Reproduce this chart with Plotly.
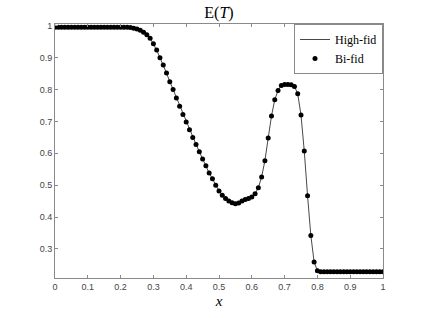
import plotly.graph_objects as go

x_vals = [round(i * 0.01, 2) for i in range(101)]
e_T = [
    0.996, 0.996, 0.996, 0.996, 0.996, 0.996, 0.996, 0.996, 0.996, 0.996,  # 0.00-0.09
    0.996, 0.996, 0.996, 0.996, 0.996, 0.996, 0.996, 0.996, 0.996, 0.996,  # 0.10-0.19
    0.996, 0.996, 0.996, 0.995, 0.993, 0.990, 0.986, 0.980, 0.972, 0.961,  # 0.20-0.29
    0.944, 0.924, 0.900, 0.877, 0.852, 0.825, 0.800, 0.774, 0.748, 0.722,  # 0.30-0.39
    0.698, 0.674, 0.650, 0.628, 0.605, 0.582, 0.561, 0.538, 0.520, 0.500,  # 0.40-0.49
    0.482, 0.468, 0.458, 0.450, 0.445, 0.442, 0.444, 0.450, 0.455, 0.458,  # 0.50-0.59
    0.463, 0.473, 0.492, 0.526, 0.577, 0.648, 0.717, 0.768, 0.797, 0.813,  # 0.60-0.69
    0.816, 0.816, 0.815, 0.810, 0.787, 0.720, 0.607, 0.467, 0.342, 0.259,  # 0.70-0.79
    0.231, 0.228, 0.228, 0.228, 0.228, 0.228, 0.228, 0.228, 0.228, 0.228,  # 0.80-0.89
    0.228, 0.228, 0.228, 0.228, 0.228, 0.228, 0.228, 0.228, 0.228, 0.228,  # 0.90-0.99
    0.228,                                                                 # 1.00
]
x_ticks = [0, 0.1, 0.2, 0.3, 0.4, 0.5, 0.6, 0.7, 0.8, 0.9, 1]
x_tick_labels = ["0", "0.1", "0.2", "0.3", "0.4", "0.5", "0.6", "0.7", "0.8", "0.9", "1"]
y_ticks = [0.3, 0.4, 0.5, 0.6, 0.7, 0.8, 0.9, 1]
y_tick_labels = ["0.3", "0.4", "0.5", "0.6", "0.7", "0.8", "0.9", "1"]

fig = go.Figure()
fig.add_trace(go.Scatter(
    x=x_vals, y=e_T, mode="lines", name="High-fid",
    line=dict(color="#333333", width=0.9),
))
fig.add_trace(go.Scatter(
    x=x_vals, y=e_T, mode="markers", name="Bi-fid",
    marker=dict(color="black", size=5, symbol="circle"),
))

axis_common = dict(
    showline=True, linecolor="#8a8a8a", linewidth=1, mirror="ticks",
    ticks="inside", ticklen=3, tickcolor="#8a8a8a", tickwidth=1,
    showgrid=False, zeroline=False,
    tickfont=dict(family="Liberation Sans", size=9, color="#444444"),
)

W, H = 424, 318
fig.update_layout(
    width=W, height=H,
    margin=dict(l=55, r=41, t=24, b=35),
    paper_bgcolor="white", plot_bgcolor="white",
    title=dict(text="E(<i>T</i>)", x=0.5, xref="paper", xanchor="center",
               y=1 - 12.5 / H, yref="container", yanchor="middle",
               font=dict(family="Liberation Serif", size=16, color="black")),
    xaxis=dict(range=[0, 1], tickvals=x_ticks, ticktext=x_tick_labels,
               title=dict(text="<i>x</i>", standoff=4,
                          font=dict(family="Liberation Serif", size=15, color="black")),
               **axis_common),
    yaxis=dict(range=[0.2085, 1.006], tickvals=y_ticks, ticktext=y_tick_labels,
               **axis_common),
    legend=dict(x=1, y=1, xanchor="right", yanchor="top",
                bgcolor="white", bordercolor="#8a8a8a", borderwidth=1,
                font=dict(family="Liberation Serif", size=12, color="black"),
                itemwidth=30, tracegroupgap=0),
    showlegend=True,
)

# remove the default 8px page margin so the figure fills the window exactly
fig.write_html("out.html",
               config={"displayModeBar": False},
               post_script="document.body.style.margin='0';document.body.style.padding='0';")
